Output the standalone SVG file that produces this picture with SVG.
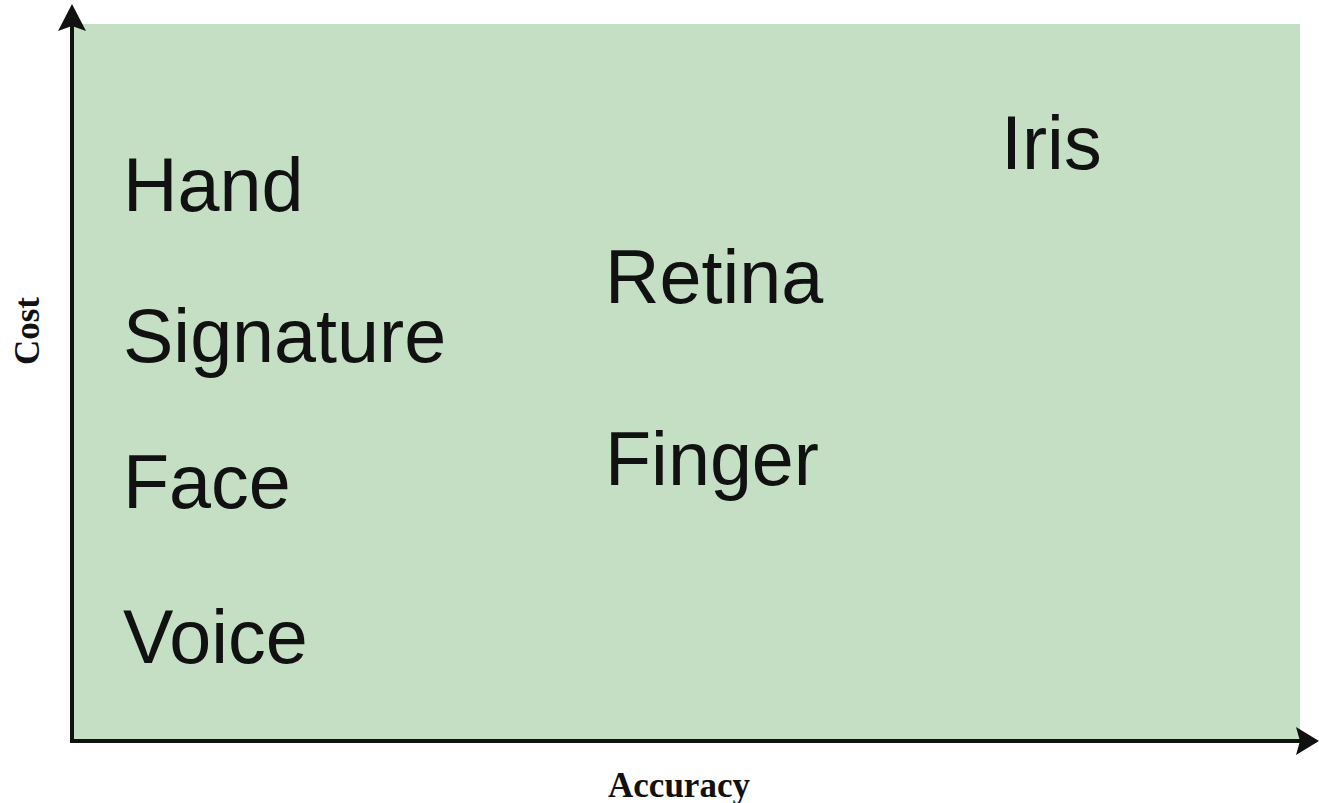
<svg xmlns="http://www.w3.org/2000/svg" width="1319" height="803" viewBox="0 0 1319 803">
<style>
.lbl{font-family:"Liberation Sans",Arial,sans-serif;font-size:75.5px;fill:#111}
.ax{font-family:"Liberation Serif","Times New Roman",serif;font-size:35px;font-weight:bold;fill:#111}
.axis{stroke:#111;stroke-width:4;fill:none}
</style>
<rect x="72" y="24" width="1228" height="717" fill="#c4dfc4"/>
<g id="connectors">
<line class="axis" x1="72" y1="743" x2="72" y2="26"/>
<line class="axis" x1="70" y1="741" x2="1300" y2="741"/>
<path d="M72 4 L86 31 L72 26 L58 31 Z" fill="#111"/>
<path d="M1319 741 L1296 755 L1300 741 L1296 727 Z" fill="#111"/>
</g>
<g id="hand"><text class="lbl" x="123" y="211">Hand</text></g>
<g id="signature"><text class="lbl" x="123" y="362">Signature</text></g>
<g id="face"><text class="lbl" x="123" y="508">Face</text></g>
<g id="voice"><text class="lbl" x="123" y="663">Voice</text></g>
<g id="retina"><text class="lbl" x="605" y="303">Retina</text></g>
<g id="finger"><text class="lbl" x="605" y="485">Finger</text></g>
<g id="iris"><text class="lbl" x="1001" y="169">Iris</text></g>
<g id="accuracy"><text class="ax" x="679" y="797" text-anchor="middle">Accuracy</text></g>
<g id="cost"><text class="ax" transform="translate(39,331) rotate(-90)" text-anchor="middle">Cost</text></g>
</svg>
